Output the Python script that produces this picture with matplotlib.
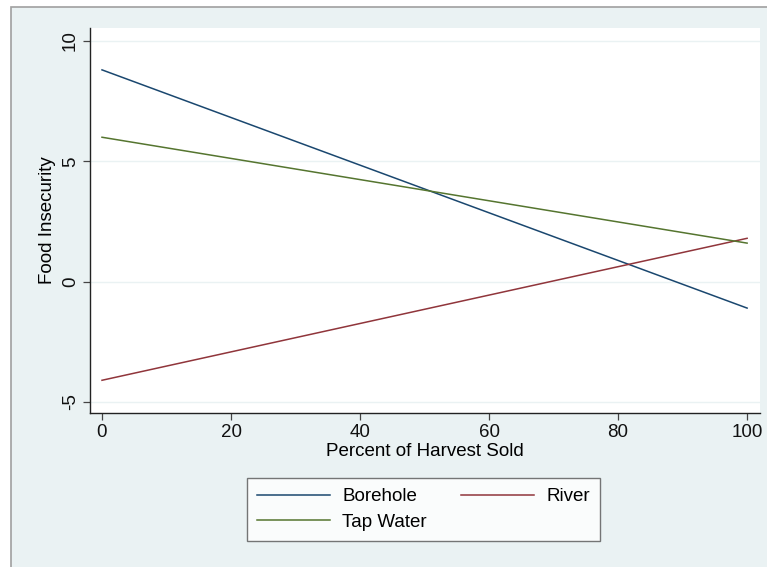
import matplotlib
matplotlib.use("Agg")
import matplotlib.pyplot as plt
from matplotlib.patches import Rectangle

# Fitted lines: food insecurity vs. percent of harvest sold, by water source
pct_sold = [0, 100]
borehole = [8.8, -1.1]
river = [-4.1, 1.8]
tap_water = [6.0, 1.6]

series = ["Borehole", "River", "Tap Water"]
colors = ["#1A476F", "#90353B", "#55752F"]
x_ticks = [0, 20, 40, 60, 80, 100]
y_ticks = [-5, 0, 5, 10]

plt.rcParams["font.family"] = ["Liberation Sans", "DejaVu Sans"]
fs = 13.5

bg = "#EAF2F3"
fig = plt.figure(figsize=(7.67, 5.67), dpi=100, facecolor="white")
# graph region: only its left and top edges fall inside the image
fig.patches.append(Rectangle((11 / 767, -0.1), 1.2, 1.1 - 7 / 567,
                             transform=fig.transFigure, facecolor=bg,
                             edgecolor="#A0A0A0", linewidth=1.2, zorder=-10))

ax = fig.add_axes([90 / 767, 1 - 413 / 567, 670 / 767, 385 / 567])
ax.set_facecolor("white")

lines = {}
for name, vals, c in zip(series, [borehole, river, tap_water], colors):
    lines[name], = ax.plot(pct_sold, vals, color=c, linewidth=1.1, label=name)

ax.set_xlim(-1.86, 102.0)
ax.set_ylim(-5.46, 10.54)
ax.set_xticks(x_ticks)
ax.set_yticks(y_ticks)
ax.set_yticklabels([str(t) for t in y_ticks], rotation=90, va="center")
ax.tick_params(direction="out", length=5, width=0.9, color="#444444",
               labelsize=fs, pad=3, labelcolor="#111111")
ax.grid(axis="y", color=bg, linewidth=1.0)
ax.set_axisbelow(True)

for s in ["top", "right"]:
    ax.spines[s].set_visible(False)
for s in ["left", "bottom"]:
    ax.spines[s].set_color("#222222")
    ax.spines[s].set_linewidth(1.0)

ax.set_xlabel("Percent of Harvest Sold", fontsize=fs, labelpad=1)
ax.set_ylabel("Food Insecurity", fontsize=fs, labelpad=4)

# row-wise order: Borehole, River / Tap Water
order = ["Borehole", "Tap Water", "River"]
leg = fig.legend([lines[n] for n in order], order,
                 loc="center", bbox_to_anchor=(423.5 / 767, 1 - 509.5 / 567),
                 ncol=2, fontsize=fs, frameon=True, fancybox=False,
                 handlelength=3.9, handletextpad=0.65, columnspacing=1.8,
                 labelspacing=0.45, borderpad=0.55, borderaxespad=0)
leg.get_frame().set_edgecolor("#555555")
leg.get_frame().set_linewidth(1.0)

fig.savefig("out.png", dpi=100, facecolor=fig.get_facecolor())
